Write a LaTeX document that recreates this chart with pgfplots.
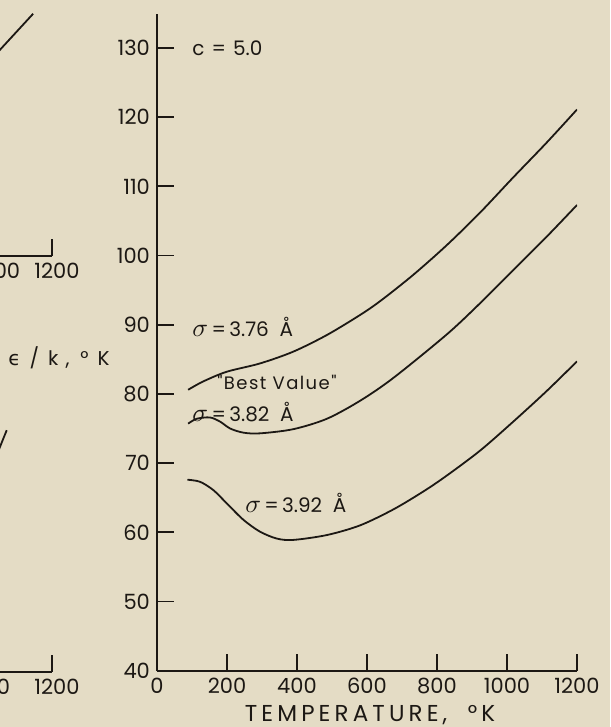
\documentclass[border=0pt]{standalone}
\usepackage{fontspec}
\setmainfont{Poppins}
\newfontfamily\spaced[LetterSpace=18]{Poppins}
\newfontfamily\lspaced[LetterSpace=8]{Poppins}
\newfontfamily\dejavu{DejaVu Sans}
\usepackage{graphicx}
\usepackage{pgfplots}
\pgfplotsset{compat=1.18}
\definecolor{paper}{RGB}{228,220,197}
\definecolor{ink}{RGB}{28,24,20}

\newcommand{\sig}{\scalebox{1.3}{$\sigma$}}
\pgfplotscreateplotcyclelist{inkcycle}{ink, line width=0.9pt, smooth\\}

\pgfplotsset{
  panel/.style={
    scale only axis,
    axis lines=left,
    axis line style={-, ink, line width=1pt},
    tick style={ink, line width=0.9pt},
    tick align=inside,
    major tick length=8.5pt,
    xmin=0, xmax=1200,
    xtick={0,200,...,1200},
    ymin=40,
    /pgf/number format/assume math mode=true,
    /pgf/number format/1000 sep={},
    tick label style={font=\fontsize{10.5}{12}\selectfont, text=ink},
    cycle list name=inkcycle,
  },
  side panel/.style={
    panel,
    ytick=\empty, y axis line style={draw=none},
    xticklabel style={xshift=2.5pt},
  },
}

\begin{document}
\begin{tikzpicture}
\fill[paper] (0pt,0pt) rectangle (305pt,-363.5pt);
\useasboundingbox (0pt,0pt) rectangle (305pt,-363.5pt);
\clip (0pt,0pt) rectangle (305pt,-363.5pt);

% neighbouring panel, upper
\begin{axis}[side panel, at={(-154pt,-128pt)}, anchor=south west,
  width=180pt, height=121.1pt, ymax=75]
  \addplot coordinates {(980,67.6) (1137,75.0)};
\end{axis}

% neighbouring panel, lower
\begin{axis}[side panel, at={(-184pt,-335.85pt)}, anchor=south west,
  width=210pt, height=138.4pt, ymax=80]
  \addplot coordinates {(1030,69.8) (1070.6,74.9)};
\end{axis}

\node[anchor=west, inner sep=0, text=ink, font=\fontsize{10}{12}\selectfont]
  at (4pt,-179pt)
  {{\dejavu ϵ}\hspace{4.5pt}/\hspace{4.5pt}k\hspace{3.5pt},\hspace{5.5pt}°\hspace{4.5pt}K};

% c = 5.0
\begin{axis}[panel, at={(78.5pt,-335.35pt)}, anchor=south west,
  width=210pt, height=328.35pt, ymax=134.9,
  ytick={40,50,...,130},
  xlabel={TEMPERATURE,\ \ °K},
  xlabel style={at={(axis description cs:0.5,0)}, anchor=center,
    xshift=1.5pt, yshift=-22.2pt, font=\fontsize{11.5}{13}\spaced, text=ink},
]
  % sigma = 3.76 A
  \addplot coordinates {
    (89,80.6) (132,81.8) (199,83.2) (294,84.4) (389,86.1) (485,88.5)
    (580,91.4) (640,93.5) (732,97.2) (828,101.5) (923,106.2)
    (1018,111.3) (1113,116.3) (1200,121.1)};
  % sigma = 3.82 A, "best value"
  \addplot coordinates {
    (89,75.7) (113,76.4) (151,76.6) (180,76.0) (209,75.0) (247,74.4)
    (294,74.3) (389,74.9) (485,76.4) (580,79.0) (675,82.3)
    (828,88.6) (923,93.1) (1018,97.9) (1113,102.7) (1200,107.3)};
  % sigma = 3.92 A
  \addplot coordinates {
    (87,67.6) (123,67.3) (161,66.1) (199,64.2) (247,61.8) (294,60.1)
    (342,59.1) (389,58.9) (485,59.6) (580,61.0) (675,63.3) (761,65.9)
    (828,68.2) (923,71.8) (1018,76.0) (1113,80.4) (1200,84.7)};

  \begin{scope}[every node/.style={anchor=west, inner sep=0, text=ink,
      font=\fontsize{10}{12}\selectfont}]
    \node at (axis cs:100,130) {c\hspace{3.5pt}=\hspace{3.5pt}5.0};
    \node at (axis cs:100,89.7) {\sig\,=\,3.76\ \ Å};
    \node[font=\fontsize{9}{11}\lspaced] at (axis cs:171,81.6) {"Best Value"};
    \node at (axis cs:100,77.4) {\sig\,=\,3.82\ \ Å};
    \node at (axis cs:251,64.2) {\sig\,=\,3.92\ \ Å};
  \end{scope}
\end{axis}
\end{tikzpicture}
\end{document}
